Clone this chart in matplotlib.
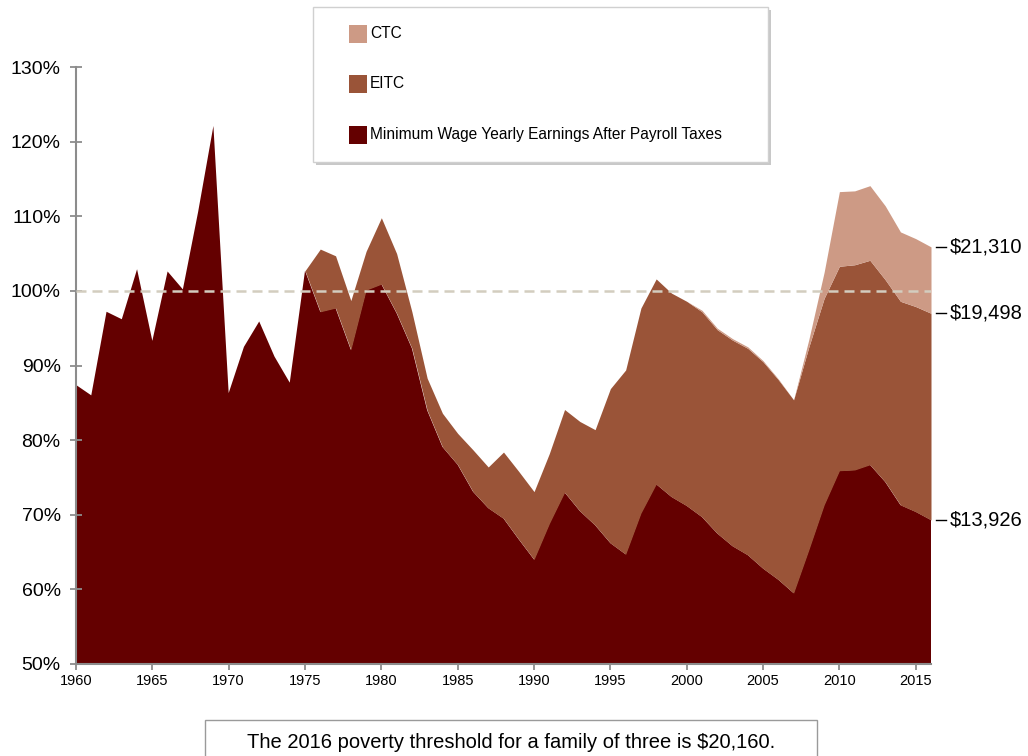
import numpy as np
import matplotlib
matplotlib.use("Agg")
import matplotlib.pyplot as plt
from matplotlib.patches import Rectangle
from matplotlib import transforms

plt.rcParams['font.family'] = ['Liberation Sans', 'DejaVu Sans']

# data, share of the poverty line for a family of three (%)
years = list(range(1960, 2017))

min_wage = [87.4, 86.0, 97.2, 96.2, 102.9, 93.3, 102.6, 100.2, 110.6, 122.1,
            86.3, 92.5, 95.9, 91.2, 87.7, 102.7, 97.2, 97.7, 92.1, 100.1,
            100.9, 97.0, 92.3, 84.0, 79.1, 76.7, 73.1, 70.9, 69.5, 66.7,
            64.0, 68.8, 73.0, 70.5, 68.6, 66.2, 64.7, 70.2, 74.1, 72.4,
            71.2, 69.7, 67.5, 65.8, 64.6, 62.8, 61.3, 59.5, 65.3, 71.3,
            75.9, 76.0, 76.7, 74.4, 71.3, 70.4, 69.3]

eitc = [0, 0, 0, 0, 0, 0, 0, 0, 0, 0,
        0, 0, 0, 0, 0, 0.0, 8.4, 7.0, 6.6, 5.2,
        8.9, 8.0, 4.9, 4.3, 4.5, 4.2, 5.6, 5.5, 8.9, 9.1,
        9.1, 9.4, 11.1, 12.0, 12.8, 20.7, 24.7, 27.5, 27.5, 27.3,
        27.4, 27.5, 27.3, 27.6, 27.7, 27.7, 26.8, 25.9, 27.2, 27.7,
        27.4, 27.5, 27.4, 27.1, 27.3, 27.5, 27.7]

ctc = [0, 0, 0, 0, 0, 0, 0, 0, 0, 0,
       0, 0, 0, 0, 0, 0, 0, 0, 0, 0,
       0, 0, 0, 0, 0, 0, 0, 0, 0, 0,
       0, 0, 0, 0, 0, 0, 0, 0, 0, 0,
       0, 0.2, 0.2, 0.2, 0.2, 0.15, 0.1, 0, 1.0, 3.5,
       10.0, 9.9, 10.0, 9.9, 9.3, 9.1, 8.9]

end_labels = ['$13,926', '$19,498', '$21,310']
series_names = ['Minimum Wage Yearly Earnings After Payroll Taxes', 'EITC', 'CTC']
colors = ['#640000', '#9A5438', '#CD9A85']

W, H = 1028, 756

def fx(x):
    return x / W

def fy(y):
    return 1 - y / H

fig = plt.figure(figsize=(W / 100, H / 100), dpi=100)
ax = fig.add_axes([fx(76), fy(664), (931 - 76) / W, (664 - 67) / H])

years = np.array(years)
layers = [np.array(min_wage), np.array(eitc), np.array(ctc)]
bottom = np.zeros(len(years))
tops = []
for vals, c in zip(layers, colors):
    top = bottom + vals
    ax.fill_between(years, bottom, top, color=c, lw=0)
    tops.append(top)
    bottom = top

ax.axhline(100, color='#D3CDBF', lw=1.8, ls=(0, (4, 2.4)), zorder=3)

ax.set_xlim(1960, 2016)
ax.set_ylim(50, 130)
ax.set_yticks(range(50, 131, 10))
ax.set_yticklabels([f'{v}%' for v in range(50, 131, 10)])
ax.set_xticks(range(1960, 2016, 5))
for s in ['top', 'right']:
    ax.spines[s].set_visible(False)
for s in ['left', 'bottom']:
    ax.spines[s].set_color('#8C8C8C')
    ax.spines[s].set_linewidth(1.5)
ax.tick_params(axis='y', direction='inout', length=8, width=1.3, color='#8C8C8C',
               labelsize=14, pad=7)
ax.tick_params(axis='x', direction='out', length=4, width=1.3, color='#8C8C8C',
               labelsize=10.5, pad=3)
for lab in ax.get_xticklabels():
    lab.set_family(['Liberation Sans Narrow', 'Liberation Sans'])

# end-of-series labels on the right
tr = transforms.blended_transform_factory(ax.transAxes, ax.transData)
for top, lab in zip(tops, end_labels):
    v = top[-1]
    ax.plot([1.006, 1.018], [v, v], color='black', lw=1, transform=tr, clip_on=False)
    ax.text(1.022, v, lab, transform=tr, ha='left', va='center', fontsize=14.5)

# legend box
fig.add_artist(Rectangle((fx(316), fy(165)), (768 - 313) / W, (162 - 7) / H,
                         transform=fig.transFigure, facecolor='#C8C8C8', edgecolor='none'))
fig.add_artist(Rectangle((fx(313), fy(162)), (768 - 313) / W, (162 - 7) / H,
                         transform=fig.transFigure, facecolor='white', edgecolor='#D0D0D0', lw=1))
legend_rows = [(2, 34), (1, 84), (0, 135)]
for idx, yc in legend_rows:
    fig.add_artist(Rectangle((fx(349), fy(yc + 9)), 18 / W, 18 / H,
                             transform=fig.transFigure, facecolor=colors[idx], edgecolor='none'))
    fig.text(fx(370), fy(yc - 1), series_names[idx], ha='left', va='center', fontsize=11.2)

# note box at the bottom
fig.add_artist(Rectangle((fx(205), fy(770)), (817 - 205) / W, (770 - 720) / H,
                         transform=fig.transFigure, facecolor='white', edgecolor='#9A9A9A', lw=1))
fig.text(fx(511), fy(742), 'The 2016 poverty threshold for a family of three is $20,160.',
         ha='center', va='center', fontsize=14.5)

fig.savefig('out.png', dpi=100)
